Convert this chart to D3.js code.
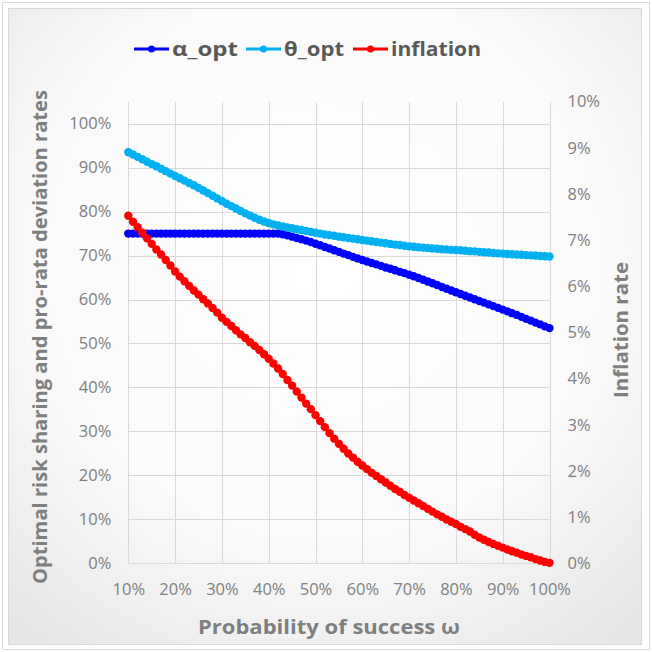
<!DOCTYPE html>
<html>
<head>
<meta charset="utf-8">
<script src="https://cdn.jsdelivr.net/npm/d3@7"></script>
<style>
html,body{margin:0;padding:0;background:#fff;}
svg{display:block;}
</style>
</head>
<body>
<svg id="chart" width="652" height="652"></svg>
<script>
// ---- Data ----
const omega = [0.10,0.11,0.12,0.13,0.14,0.15,0.16,0.17,0.18,0.19,0.20,0.21,0.22,0.23,0.24,0.25,0.26,0.27,0.28,0.29,0.30,0.31,0.32,0.33,0.34,0.35,0.36,0.37,0.38,0.39,0.40,0.41,0.42,0.43,0.44,0.45,0.46,0.47,0.48,0.49,0.50,0.51,0.52,0.53,0.54,0.55,0.56,0.57,0.58,0.59,0.60,0.61,0.62,0.63,0.64,0.65,0.66,0.67,0.68,0.69,0.70,0.71,0.72,0.73,0.74,0.75,0.76,0.77,0.78,0.79,0.80,0.81,0.82,0.83,0.84,0.85,0.86,0.87,0.88,0.89,0.90,0.91,0.92,0.93,0.94,0.95,0.96,0.97,0.98,0.99,1.00];

// alpha_opt (%)
const alphaOpt = [75,75,75,75,75,75,75,75,75,75,75,75,75,75,75,75,75,75,75,75,75,75,75,75,75,75,75,75,75,75,75,75,75,
74.85,74.6,74.3,74.0,73.7,73.4,73.1,72.7,72.35,71.95,71.6,71.2,70.85,70.45,70.1,69.7,69.35,69.0,
68.65,68.3,68.0,67.65,67.3,67.0,66.65,66.3,66.0,65.65,65.3,64.9,64.5,64.1,63.7,63.3,62.85,62.45,62.05,61.65,
61.25,60.85,60.45,60.05,59.65,59.3,58.9,58.5,58.1,57.7,57.3,56.9,56.5,56.05,55.6,55.2,54.75,54.35,53.9,53.5];

// theta_opt (%)
const thetaOpt = [93.5,93.0,92.45,91.9,91.35,90.8,90.3,89.75,89.2,88.65,88.1,87.6,87.05,86.5,86.0,85.4,84.8,84.2,83.6,83.0,
82.4,81.8,81.25,80.7,80.15,79.6,79.1,78.6,78.15,77.75,77.4,77.1,76.85,76.6,76.4,76.2,76.0,75.8,75.6,75.4,
75.2,75.0,74.8,74.65,74.5,74.3,74.15,74.0,73.85,73.7,73.55,73.4,73.25,73.1,72.95,72.8,72.65,72.5,72.4,72.25,
72.1,72.0,71.9,71.8,71.7,71.6,71.55,71.45,71.4,71.3,71.25,71.2,71.1,71.0,70.95,70.85,70.75,70.7,70.6,70.5,
70.45,70.35,70.3,70.25,70.2,70.1,70.05,70.0,69.9,69.85,69.8];

// inflation (%), right axis
const inflation = [7.53,7.40,7.28,7.16,7.04,6.92,6.80,6.69,6.57,6.45,6.32,6.21,6.11,6.01,5.91,5.82,5.72,5.63,5.53,5.43,
5.32,5.23,5.14,5.05,4.96,4.88,4.79,4.71,4.62,4.53,4.43,4.33,4.22,4.10,3.97,3.85,3.72,3.59,3.46,3.34,
3.21,3.08,2.95,2.82,2.70,2.59,2.48,2.38,2.29,2.20,2.12,2.04,1.96,1.89,1.82,1.75,1.68,1.61,1.55,1.48,
1.42,1.36,1.30,1.24,1.18,1.12,1.06,1.01,0.95,0.90,0.85,0.79,0.74,0.69,0.62,0.56,0.51,0.46,0.42,0.38,
0.34,0.30,0.26,0.23,0.19,0.16,0.13,0.09,0.06,0.03,0.01];

const xTicks = [0.1,0.2,0.3,0.4,0.5,0.6,0.7,0.8,0.9,1.0];
const leftTicks = [0,10,20,30,40,50,60,70,80,90,100];
const rightTicks = [0,1,2,3,4,5,6,7,8,9,10];
const seriesNames = ["α_opt","θ_opt","inflation"];
const seriesColors = ["#0000FF","#00B0F0","#FF0000"];

// ---- Layout ----
const svg = d3.select("#chart");
const plot = {left:128.3, right:549.5, top:101.7, bottom:563.3};

const defs = svg.append("defs");
const grad = defs.append("radialGradient").attr("id","bg").attr("cx","50%").attr("cy","40%").attr("r","75%");
grad.append("stop").attr("offset","0%").attr("stop-color","#ffffff");
grad.append("stop").attr("offset","60%").attr("stop-color","#fafafa");
grad.append("stop").attr("offset","100%").attr("stop-color","#e6e6e6");

svg.append("rect").attr("x",2.5).attr("y",2.5).attr("width",647).attr("height",647)
  .attr("fill","#fff").attr("stroke","#d9d9d9");
svg.append("rect").attr("x",8.5).attr("y",8.5).attr("width",633).attr("height",636)
  .attr("fill","url(#bg)").attr("stroke","#d9d9d9");

const x = d3.scaleLinear().domain([0.1,1.0]).range([plot.left,plot.right]);
const yL = d3.scaleLinear().domain([0,105]).range([plot.bottom,plot.top]);
const yR = d3.scaleLinear().domain([0,10]).range([plot.bottom,plot.top]);

// gridlines
const g = svg.append("g");
g.selectAll(".hg").data(leftTicks).enter().append("line")
  .attr("x1",plot.left).attr("x2",plot.right)
  .attr("y1",d=>Math.round(yL(d))+0.5).attr("y2",d=>Math.round(yL(d))+0.5)
  .attr("stroke","#d9d9d9").attr("stroke-width",1);
g.selectAll(".vg").data(xTicks).enter().append("line")
  .attr("x1",d=>Math.round(x(d))+0.5).attr("x2",d=>Math.round(x(d))+0.5)
  .attr("y1",plot.top).attr("y2",plot.bottom)
  .attr("stroke","#d9d9d9").attr("stroke-width",1);

const tickFont = "'Open Sans', sans-serif";
const fmtPct = d=>d+"%";
const axL = svg.append("g").attr("transform",`translate(${plot.left-17},0)`)
  .call(d3.axisLeft(yL).tickValues(leftTicks).tickFormat(fmtPct).tickSize(0).tickPadding(0));
const axR = svg.append("g").attr("transform",`translate(${plot.right+18},0)`)
  .call(d3.axisRight(yR).tickValues(rightTicks).tickFormat(fmtPct).tickSize(0).tickPadding(0));
const axB = svg.append("g").attr("transform",`translate(0,${plot.bottom+17})`)
  .call(d3.axisBottom(x).tickValues(xTicks).tickFormat(d=>Math.round(d*100)+"%").tickSize(0).tickPadding(0));
[axL,axR,axB].forEach(a=>{
  a.select(".domain").remove();
  a.selectAll("text").attr("fill","#7f7f7f").style("font-family",tickFont).style("font-size","16.5px");
});
axB.selectAll("text").attr("dy","0.9em");

// series
const seriesData = [alphaOpt, thetaOpt, inflation];
const yScales = [yL, yL, yR];
seriesData.forEach((vals,i)=>{
  const pts = omega.map((o,j)=>[o, vals[j]]);
  const line = d3.line().x(d=>x(d[0])).y(d=>yScales[i](d[1]));
  const sg = svg.append("g");
  sg.append("path").datum(pts).attr("d",line).attr("fill","none")
    .attr("stroke",seriesColors[i]).attr("stroke-width",3);
  sg.selectAll("circle").data(pts).enter().append("circle")
    .attr("cx",d=>x(d[0])).attr("cy",d=>yScales[i](d[1])).attr("r",4.2)
    .attr("fill",seriesColors[i]);
});

// legend
const legendX = [134, 246, 353];
const legendTextW = [66, 60, 90];
const lg = svg.append("g");
seriesNames.forEach((n,i)=>{
  const lx = legendX[i], ly = 49;
  lg.append("line").attr("x1",lx).attr("x2",lx+35).attr("y1",ly).attr("y2",ly)
    .attr("stroke",seriesColors[i]).attr("stroke-width",3);
  lg.append("circle").attr("cx",lx+17.5).attr("cy",ly).attr("r",3.5).attr("fill",seriesColors[i]);
  lg.append("text").attr("x",lx+38).attr("y",ly).attr("dy","0.35em")
    .attr("fill","#595959").style("font-family",tickFont).style("font-weight","bold").style("font-size","20px")
    .attr("textLength",legendTextW[i]).attr("lengthAdjust","spacingAndGlyphs")
    .text(n);
});

// axis titles
const titleStyle = sel=>sel.attr("fill","#7f7f7f").style("font-family",tickFont)
  .style("font-weight","bold").style("font-size","20px").attr("text-anchor","middle");
svg.append("text").attr("transform","translate(40,337) rotate(-90)").attr("dy","0.35em")
  .call(titleStyle).attr("textLength",494).attr("lengthAdjust","spacingAndGlyphs")
  .text("Optimal risk sharing and pro-rata deviation rates");
svg.append("text").attr("transform","translate(621,330) rotate(-90)").attr("dy","0.35em")
  .call(titleStyle).attr("textLength",136).attr("lengthAdjust","spacingAndGlyphs")
  .text("Inflation rate");
svg.append("text").attr("x",329).attr("y",627).attr("dy","0.35em")
  .call(titleStyle).attr("textLength",262).attr("lengthAdjust","spacingAndGlyphs")
  .text("Probability of success ω");
</script>
</body>
</html>
